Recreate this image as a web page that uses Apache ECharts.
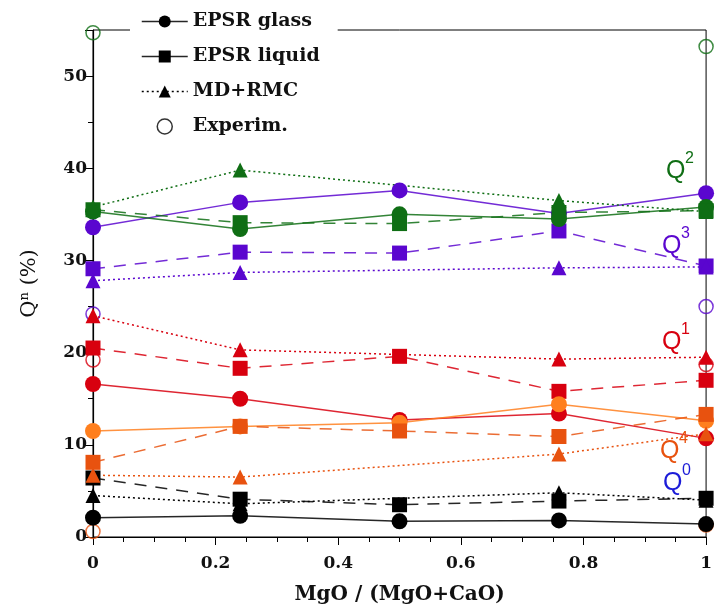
<!DOCTYPE html>
<html>
<head>
<meta charset="utf-8">
<script src="https://cdn.jsdelivr.net/npm/echarts@6/dist/echarts.min.js"></script>
<style>
  html, body { margin: 0; padding: 0; background: #fff; }
  #chart { width: 715px; height: 610px; }
</style>
</head>
<body>
<div id="chart"></div>
<script>
// composition MgO/(MgO+CaO)
var xPos = [0, 0.24, 0.5, 0.76, 1];

// Q0
var q0Glass  = [2.1, 2.3, 1.7, 1.8, 1.4];
var q0Liquid = [6.4, 4.1, 3.5, 3.9, 4.2];
var q0Md     = [4.5, 3.6, null, 4.8, 4.0];
// Q1
var q1Glass  = [16.6, 15.0, 12.7, 13.4, 10.7];
var q1Liquid = [20.5, 18.3, 19.6, 15.8, 17.0];
var q1Md     = [24.0, 20.3, null, 19.3, 19.5];
var q1Exp    = [19.2, null, null, null, 18.7];
// Q2
var q2Glass  = [35.3, 33.4, 35.0, 34.5, 35.8];
var q2Liquid = [35.5, 34.1, 34.0, 35.2, 35.4];
var q2Md     = [35.8, 39.8, null, 36.5, 35.3];
var q2Exp    = [54.7, null, null, null, 53.2];
// Q3
var q3Glass  = [33.6, 36.3, 37.6, 35.1, 37.3];
var q3Liquid = [29.1, 30.9, 30.8, 33.2, 29.4];
var q3Md     = [27.8, 28.7, null, 29.2, 29.3];
var q3Exp    = [24.2, null, null, null, 25.0];
// Q4
var q4Glass  = [11.5, 12.0, 12.4, 14.4, 12.6];
var q4Liquid = [8.1, 12.0, 11.5, 10.9, 13.3];
var q4Md     = [6.7, 6.5, null, 9.0, 11.2];
var q4Exp    = [0.6, null, null, null, 1.3];

var cQ0 = '#000000', cQ1 = '#d8000f', cQ2 = '#0f6e14', cQ3 = '#5a06cf',
    cQ4a = '#ff7f1e', cQ4b = '#e8520f';

var serifFont = 'DejaVu Serif';

function pts(arr){
    return xPos.map(function(x, i){ return [x, arr[i]]; })
               .filter(function(p){ return p[1] != null; });
}

function glass(arr, color){
    return { name: 'EPSR glass', type: 'line', data: pts(arr), clip: false,
        symbol: 'circle', symbolSize: 16,
        itemStyle: { color: color },
        lineStyle: { color: color, width: 1.5, type: 'solid', opacity: 0.85 } };
}
function liquid(arr, color){
    return { name: 'EPSR liquid', type: 'line', data: pts(arr), clip: false,
        symbol: 'rect', symbolSize: 15,
        itemStyle: { color: color },
        lineStyle: { color: color, width: 1.5, type: [12, 9], opacity: 0.85 } };
}
function md(arr, color){
    return { name: 'MD+RMC', type: 'line', data: pts(arr), clip: false,
        symbol: 'triangle', symbolSize: 15,
        itemStyle: { color: color },
        lineStyle: { color: color, width: 1.5, type: [2, 3] } };
}
function expt(arr, color){
    return { name: 'Experim.', type: 'scatter', data: pts(arr), clip: false,
        symbol: 'circle', symbolSize: 14,
        itemStyle: { color: 'rgba(255,255,255,0)', borderColor: color, borderWidth: 1.5 } };
}

function qLabel(txt, sup, color, x, y){
    return [
        { type: 'text', left: x, top: y + 6, z: 10,
          style: { text: txt, fill: color, font: '25px "Liberation Sans"' } },
        { type: 'text', left: x + 19, top: y - 2, z: 10,
          style: { text: sup, fill: color, font: '16px "Liberation Sans"' } }
    ];
}

var chart = echarts.init(document.getElementById('chart'));
var option = {
    animation: false,
    backgroundColor: '#fff',
    grid: {
        left: 93, right: 4, top: 30, bottom: 72,
        show: true, borderColor: '#000', borderWidth: 1
    },
    legend: {
        orient: 'vertical', left: 130, top: 9,
        itemWidth: 46, itemHeight: 15, itemGap: 14,
        backgroundColor: '#fff', padding: [2, 18, 2, 11],
        textStyle: { fontFamily: serifFont, fontWeight: 'bold', fontSize: 19, color: '#111', lineHeight: 21 },
        data: [
            { name: 'EPSR glass', itemStyle: { color: '#000' }, lineStyle: { color: '#000', type: 'solid', width: 1.5 } },
            { name: 'EPSR liquid', itemStyle: { color: '#000' }, lineStyle: { color: '#000', type: 'solid', width: 1.5 } },
            { name: 'MD+RMC', itemStyle: { color: '#000' }, lineStyle: { color: '#000', type: [2, 3], width: 1.5 } },
            { name: 'Experim.', icon: 'circle', itemStyle: { color: '#fff', borderColor: '#000', borderWidth: 1.5 } }
        ]
    },
    xAxis: {
        type: 'value', min: 0, max: 1, interval: 0.2,
        name: 'MgO / (MgO+CaO)', nameLocation: 'middle', nameGap: 48,
        nameTextStyle: { fontFamily: serifFont, fontWeight: 'bold', fontSize: 20, color: '#111' },
        axisLine: { onZero: false, lineStyle: { color: '#000', width: 1.2 } },
        axisTick: { show: true, length: 8, lineStyle: { color: '#000' } },
        minorTick: { show: true, splitNumber: 4, length: 5, lineStyle: { color: '#000' } },
        splitLine: { show: false },
        axisLabel: { fontFamily: serifFont, fontWeight: 'bold', fontSize: 17, color: '#111', margin: 18 }
    },
    yAxis: {
        type: 'value', min: 0, max: 55, interval: 10,
        name: '{q|Q}{n|n}{q| (%)}', nameLocation: 'middle', nameGap: 52, nameRotate: 90,
        nameTextStyle: {
            rich: {
                q: { fontFamily: serifFont, fontSize: 21, color: '#111' },
                n: { fontFamily: serifFont, fontSize: 13, color: '#111', verticalAlign: 'top', padding: [0, 0, 10, 0] }
            }
        },
        axisLine: { lineStyle: { color: '#000', width: 1.2 } },
        axisTick: { show: true, length: 8, lineStyle: { color: '#000' } },
        minorTick: { show: true, splitNumber: 2, length: 5, lineStyle: { color: '#000' } },
        splitLine: { show: false },
        axisLabel: { fontFamily: serifFont, fontWeight: 'bold', fontSize: 17, color: '#111', margin: 6, showMaxLabel: false }
    },
    graphic: [].concat(
        qLabel('Q', '2', cQ2, 666, 153),
        qLabel('Q', '3', cQ3, 662, 228),
        qLabel('Q', '1', cQ1, 662, 324),
        qLabel('Q', '4', cQ4b, 660, 433),
        qLabel('Q', '0', '#1c1cd8', 663, 465)
    ),
    series: [
        glass(q0Glass, cQ0), liquid(q0Liquid, cQ0), md(q0Md, cQ0),
        glass(q1Glass, cQ1), liquid(q1Liquid, cQ1), md(q1Md, cQ1), expt(q1Exp, cQ1),
        glass(q3Glass, cQ3), liquid(q3Liquid, cQ3), md(q3Md, cQ3), expt(q3Exp, cQ3),
        glass(q2Glass, cQ2), liquid(q2Liquid, cQ2), md(q2Md, cQ2), expt(q2Exp, cQ2),
        glass(q4Glass, cQ4a), liquid(q4Liquid, cQ4b), md(q4Md, cQ4b), expt(q4Exp, cQ4b)
    ]
};
chart.setOption(option);
window.onresize = function(){ chart.resize(); };
</script>
</body>
</html>
